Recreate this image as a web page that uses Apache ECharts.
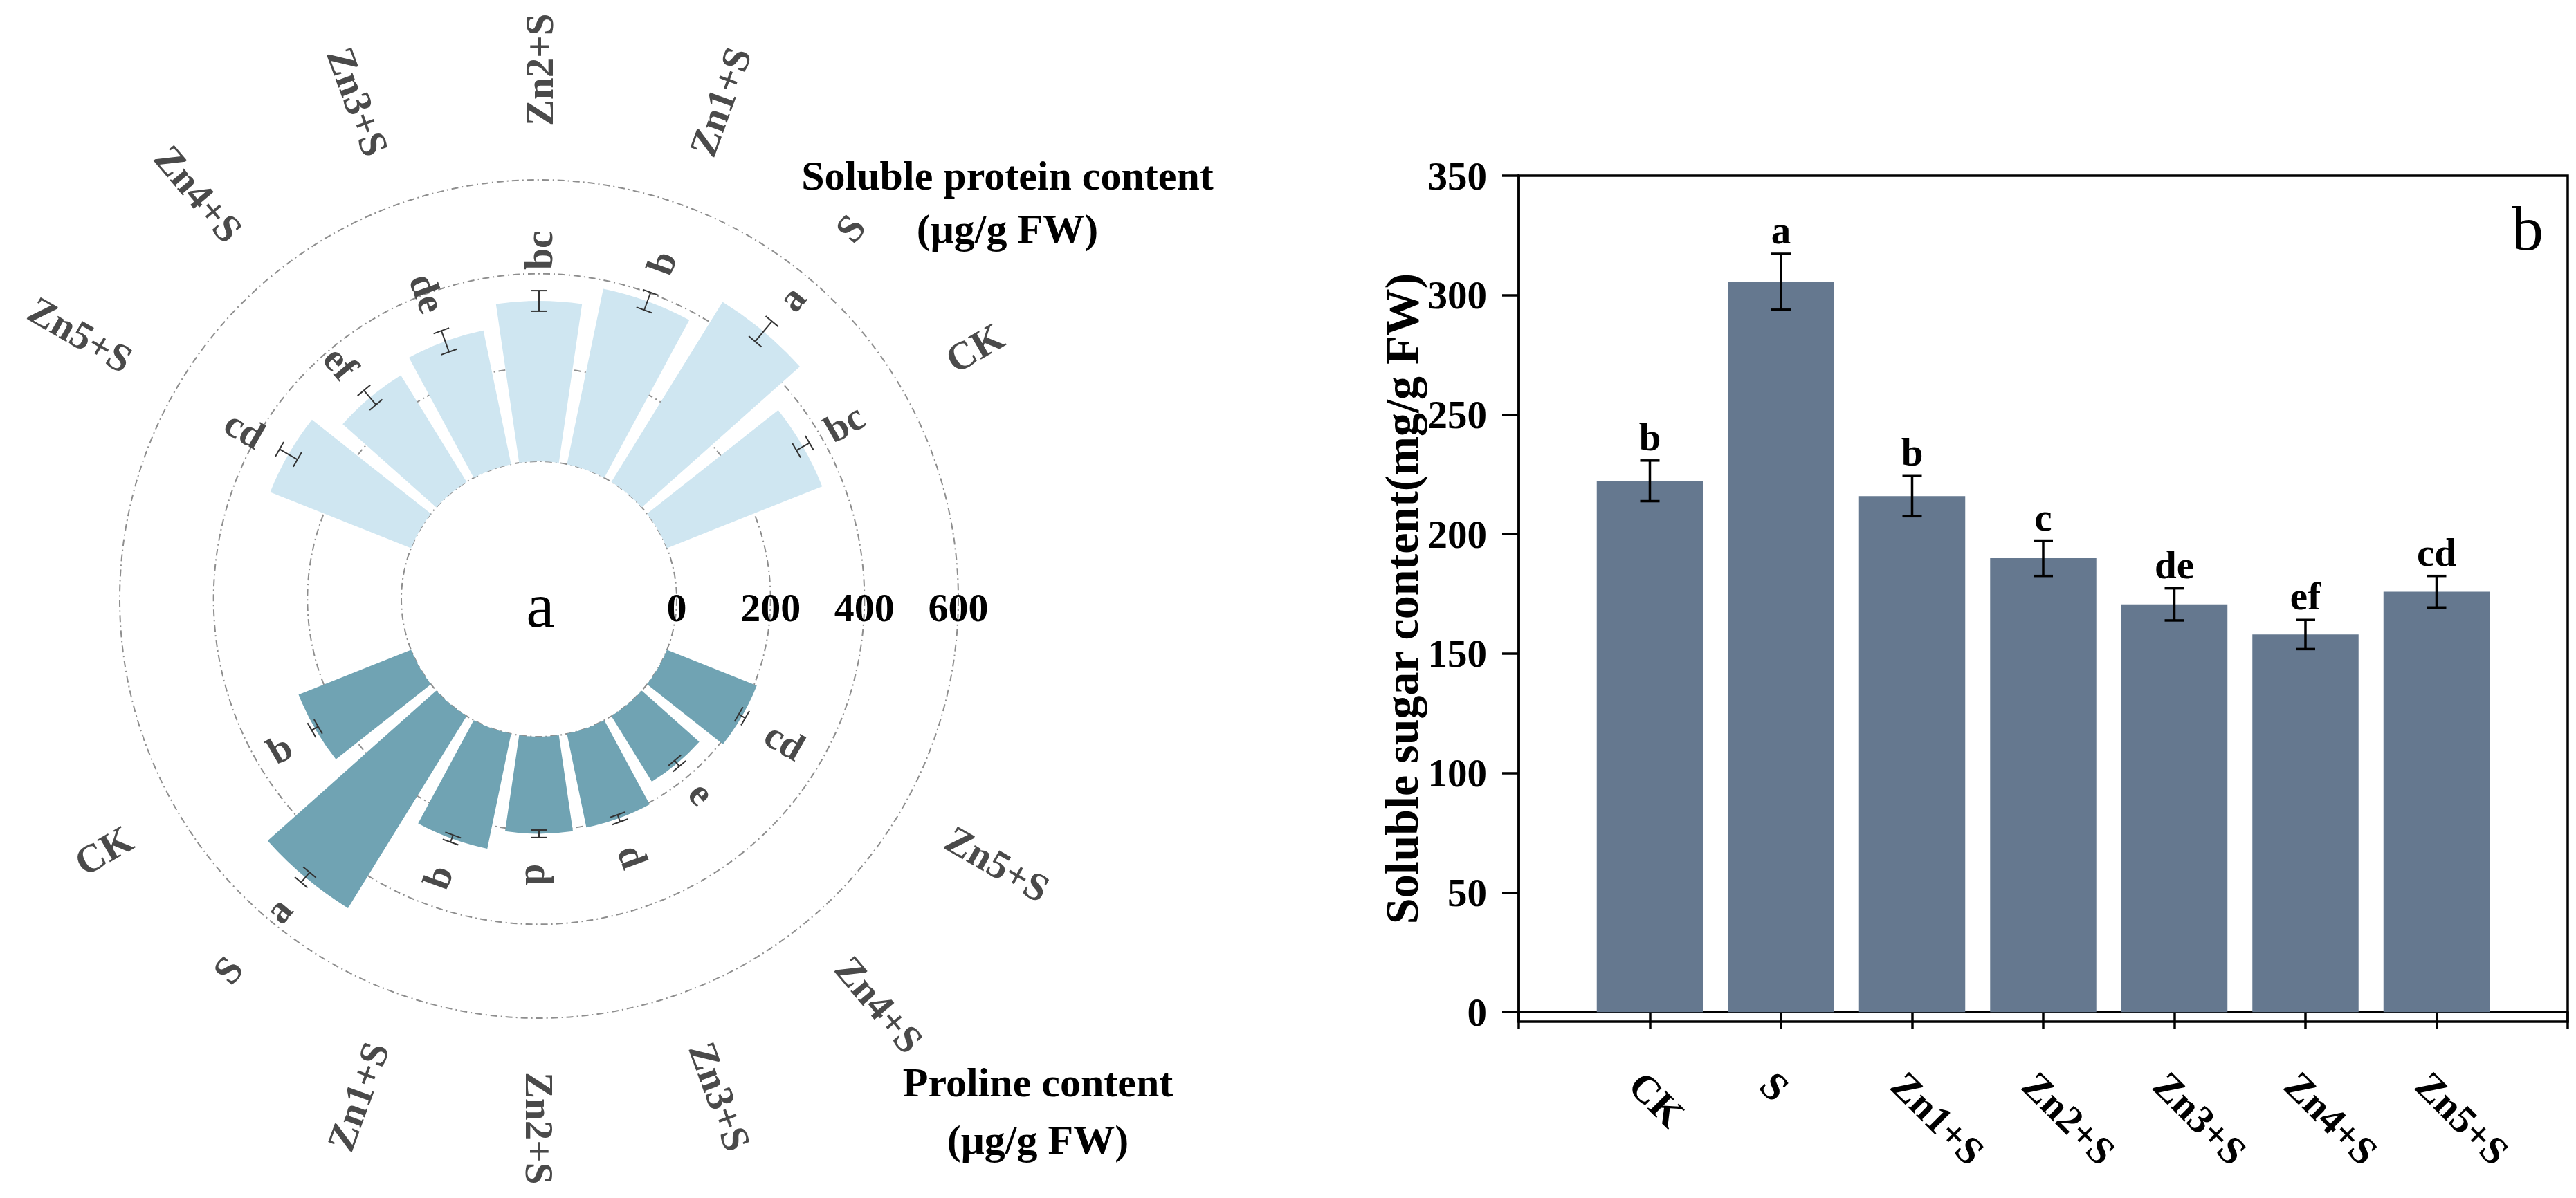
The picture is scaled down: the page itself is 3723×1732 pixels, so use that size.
<!DOCTYPE html>
<html>
<head>
<meta charset="utf-8">
<script src="https://cdn.jsdelivr.net/npm/echarts@6/dist/echarts.min.js"></script>
<style>
html,body{margin:0;padding:0;background:#ffffff;}
#c{width:3723px;height:1732px;}
</style>
</head>
<body>
<div id="c"></div>
<script>
// ---------------- data ----------------
const treatments = ['CK', 'S', 'Zn1+S', 'Zn2+S', 'Zn3+S', 'Zn4+S', 'Zn5+S'];

// panel a, upper half: soluble protein content (ug/g FW)
const proteinValues  = [356, 451, 382, 342, 291, 267, 323];
const proteinErrors  = [16, 28, 20, 22, 24, 20, 22];
const proteinLetters = ['bc', 'a', 'b', 'bc', 'de', 'ef', 'cd'];

// panel a, lower half: proline content (ug/g FW)
const prolineValues  = [258, 481, 250, 207, 204, 164, 206];
const prolineErrors  = [8, 14, 8, 8, 8, 8, 8];
const prolineLetters = ['b', 'a', 'b', 'd', 'd', 'e', 'cd'];

const radialTicks = [0, 200, 400, 600];

// panel b: soluble sugar content (mg/g FW)
const sugarValues  = [222.3, 305.6, 215.9, 189.9, 170.6, 158.0, 175.9];
const sugarErrors  = [8.5, 11.7, 8.4, 7.4, 6.7, 6.1, 6.6];
const sugarLetters = ['b', 'a', 'b', 'c', 'de', 'ef', 'cd'];
const sugarTicks   = [0, 50, 100, 150, 200, 250, 300, 350];

// ---------------- layout / style ----------------
const FONT = "'Liberation Serif','Times New Roman',serif";
const SLOTS = 18;          // 20 degree slots around the circle
const TOP_FIRST = 1;       // first slot of upper half
const BOTTOM_FIRST = 10;   // first slot of lower half
const slotNames = Array.from({length: SLOTS}, (_, i) => 'slot' + i);
const GRID_LINE = {color: '#8e8e8e', width: 2, type: [10, 5, 2, 5]};
const LABEL_GREY = '#4a4a4a';

const proteinBars = slotNames.map(() => null);
const prolineBars = slotNames.map(() => null);
treatments.forEach((t, i) => {
  proteinBars[TOP_FIRST + i] = proteinValues[i];
  prolineBars[BOTTOM_FIRST + i] = prolineValues[i];
});
const outerLabelData = [];
const outerLabelText = [];
treatments.forEach((t, i) => {
  outerLabelData.push([600, TOP_FIRST + i]);    outerLabelText.push(t);
  outerLabelData.push([600, BOTTOM_FIRST + i]); outerLabelText.push(t);
});

function radialInfo(p, cx, cy) {
  const dx = p[0] - cx, dy = p[1] - cy;
  const r = Math.hypot(dx, dy);
  const ux = dx / r, uy = dy / r;
  const theta = Math.atan2(-uy, ux);
  const outward = ux > -0.01;
  let rot = theta;
  if (!outward) rot = theta > 0 ? theta - Math.PI : theta + Math.PI;
  return {r, ux, uy, rot, align: outward ? 'left' : 'right'};
}

function polarErrRenderer(letters, gap) {
  return function (params, api) {
    const cs = params.coordSys;
    const cx = cs.cx, cy = cs.cy;
    const v = api.value(0), slot = api.value(1), e = api.value(2);
    const pLo = api.coord([v - e, slot]);
    const pHi = api.coord([v + e, slot]);
    const info = radialInfo(pHi, cx, cy);
    const tx = -info.uy, ty = info.ux, ch = 12;
    const st = {stroke: '#333333', lineWidth: 2};
    const R = info.r + gap;
    return {
      type: 'group',
      children: [
        {type: 'line', shape: {x1: pLo[0], y1: pLo[1], x2: pHi[0], y2: pHi[1]}, style: st},
        {type: 'line', shape: {x1: pLo[0] - tx * ch, y1: pLo[1] - ty * ch, x2: pLo[0] + tx * ch, y2: pLo[1] + ty * ch}, style: st},
        {type: 'line', shape: {x1: pHi[0] - tx * ch, y1: pHi[1] - ty * ch, x2: pHi[0] + tx * ch, y2: pHi[1] + ty * ch}, style: st},
        {type: 'text', x: cx + info.ux * R, y: cy + info.uy * R, rotation: info.rot,
          style: {text: letters[params.dataIndex], fill: LABEL_GREY, fontSize: 56, fontWeight: 'bold',
            fontFamily: FONT, align: info.align, verticalAlign: 'middle'}}
      ]
    };
  };
}

const chart = echarts.init(document.getElementById('c'), null, {renderer: 'svg'});

const option = {
  animation: false,
  backgroundColor: '#ffffff',
  polar: {center: [779, 866], radius: [199, 606]},
  angleAxis: {
    type: 'category', data: slotNames, startAngle: 0, clockwise: false, boundaryGap: true,
    axisLine: {show: false}, axisTick: {show: false}, axisLabel: {show: false},
    splitLine: {show: false}, splitArea: {show: false}
  },
  radiusAxis: {
    type: 'value', min: 0, max: 600, interval: 200,
    axisLine: {show: false}, axisTick: {show: false}, axisLabel: {show: false},
    splitLine: {show: true, lineStyle: GRID_LINE}, splitArea: {show: false}
  },
  grid: {left: 2195, right: 12, top: 254, bottom: 255, show: true, borderColor: '#000', borderWidth: 3.5, backgroundColor: 'transparent'},
  xAxis: {
    type: 'category', data: [''].concat(treatments, ['']), boundaryGap: false,
    axisLine: {show: true, lineStyle: {color: '#000', width: 3.5}},
    axisTick: {show: true, interval: 0, length: 24, lineStyle: {color: '#000', width: 3.5}},
    axisLabel: {interval: 0, rotate: -45, margin: 62, verticalAlign: 'top', color: '#000',
      fontFamily: FONT, fontWeight: 'bold', fontSize: 57},
    splitLine: {show: false}
  },
  yAxis: {
    type: 'value', min: -4, max: 350,
    axisLine: {show: true, lineStyle: {color: '#000', width: 3.5}},
    axisTick: {show: true, length: 24, customValues: sugarTicks, lineStyle: {color: '#000', width: 3.5}},
    axisLabel: {customValues: sugarTicks, margin: 46, color: '#000', fontFamily: FONT, fontWeight: 'bold', fontSize: 57},
    splitLine: {show: false},
    name: 'Soluble sugar content(mg/g FW)', nameLocation: 'middle', nameGap: 134, nameRotate: 90,
    nameTextStyle: {color: '#000', fontFamily: FONT, fontWeight: 'bold', fontSize: 68}
  },
  graphic: [
    {type: 'text', x: 1456, y: 254, style: {text: 'Soluble protein content', fill: '#000', fontFamily: FONT, fontWeight: 'bold', fontSize: 60, align: 'center', verticalAlign: 'middle'}},
    {type: 'text', x: 1456, y: 331, style: {text: '(\u03bcg/g FW)', fill: '#000', fontFamily: FONT, fontWeight: 'bold', fontSize: 60, align: 'center', verticalAlign: 'middle'}},
    {type: 'text', x: 1500, y: 1565, style: {text: 'Proline content', fill: '#000', fontFamily: FONT, fontWeight: 'bold', fontSize: 60, align: 'center', verticalAlign: 'middle'}},
    {type: 'text', x: 1500, y: 1648, style: {text: '(\u03bcg/g FW)', fill: '#000', fontFamily: FONT, fontWeight: 'bold', fontSize: 60, align: 'center', verticalAlign: 'middle'}},
    {type: 'text', x: 781, y: 875, style: {text: 'a', fill: '#000', fontFamily: FONT, fontSize: 92, align: 'center', verticalAlign: 'middle'}},
    {type: 'text', x: 3653, y: 330, style: {text: 'b', fill: '#000', fontFamily: FONT, fontSize: 92, align: 'center', verticalAlign: 'middle'}}
  ],
  series: [
    {
      name: 'Soluble protein content', type: 'bar', coordinateSystem: 'polar',
      data: proteinBars, barGap: '-100%', barCategoryGap: '17%',
      itemStyle: {color: '#cfe6f1'}, z: 2
    },
    {
      name: 'Proline content', type: 'bar', coordinateSystem: 'polar',
      data: prolineBars, barGap: '-100%', barCategoryGap: '17%',
      itemStyle: {color: '#70a3b3'}, z: 2
    },
    {
      type: 'custom', coordinateSystem: 'polar', z: 5,
      data: treatments.map((t, i) => [proteinValues[i], TOP_FIRST + i, proteinErrors[i]]),
      renderItem: polarErrRenderer(proteinLetters, 30)
    },
    {
      type: 'custom', coordinateSystem: 'polar', z: 5,
      data: treatments.map((t, i) => [prolineValues[i], BOTTOM_FIRST + i, prolineErrors[i]]),
      renderItem: polarErrRenderer(prolineLetters, 38)
    },
    {
      // category labels around the circle
      type: 'custom', coordinateSystem: 'polar', z: 5,
      data: outerLabelData,
      renderItem: function (params, api) {
        const cs = params.coordSys;
        const p = api.coord([api.value(0), api.value(1)]);
        const info = radialInfo(p, cs.cx, cs.cy);
        const R = info.r + 78;
        return {type: 'text', x: cs.cx + info.ux * R, y: cs.cy + info.uy * R, rotation: info.rot,
          style: {text: outerLabelText[params.dataIndex], fill: LABEL_GREY, fontSize: 57, fontWeight: 'bold',
            fontFamily: FONT, align: info.align, verticalAlign: 'middle'}};
      }
    },
    {
      // radial tick labels along the horizontal
      type: 'custom', coordinateSystem: 'polar', z: 5,
      data: radialTicks.map(v => [v, 0]),
      renderItem: function (params, api) {
        const cs = params.coordSys;
        const p = api.coord([api.value(0), api.value(1)]);
        const r = Math.hypot(p[0] - cs.cx, p[1] - cs.cy);
        return {type: 'text', x: cs.cx + r, y: cs.cy + 12,
          style: {text: String(radialTicks[params.dataIndex]), fill: '#000', fontSize: 58, fontWeight: 'bold',
            fontFamily: FONT, align: 'center', verticalAlign: 'middle'}};
      }
    },
    {
      name: 'Soluble sugar content', type: 'bar', xAxisIndex: 0, yAxisIndex: 0,
      data: [null].concat(sugarValues, [null]), barWidth: '81%',
      itemStyle: {color: '#65788f'}
    },
    {
      type: 'custom', xAxisIndex: 0, yAxisIndex: 0, z: 5,
      data: treatments.map((t, i) => [i + 1, sugarValues[i], sugarErrors[i]]),
      renderItem: function (params, api) {
        const x = api.value(0), v = api.value(1), e = api.value(2);
        const lo = api.coord([x, v - e]), hi = api.coord([x, v + e]);
        const ch = 14;
        const st = {stroke: '#000', lineWidth: 3.5};
        return {type: 'group', children: [
          {type: 'line', shape: {x1: lo[0], y1: lo[1], x2: hi[0], y2: hi[1]}, style: st},
          {type: 'line', shape: {x1: lo[0] - ch, y1: lo[1], x2: lo[0] + ch, y2: lo[1]}, style: st},
          {type: 'line', shape: {x1: hi[0] - ch, y1: hi[1], x2: hi[0] + ch, y2: hi[1]}, style: st},
          {type: 'text', x: hi[0], y: hi[1] - 6, style: {text: sugarLetters[params.dataIndex], fill: '#000',
            fontFamily: FONT, fontWeight: 'bold', fontSize: 57, align: 'center', verticalAlign: 'bottom'}}
        ]};
      }
    }
  ]
};
chart.setOption(option);
</script>
</body>
</html>
